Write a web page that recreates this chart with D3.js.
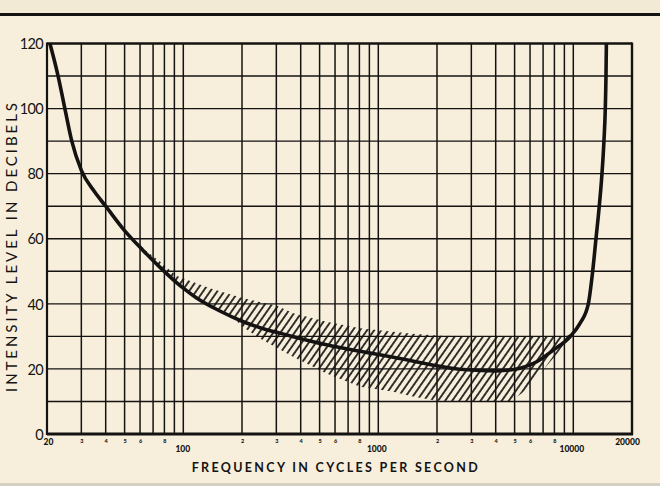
<!DOCTYPE html>
<html><head><meta charset="utf-8">
<script src="https://cdn.jsdelivr.net/npm/d3@7"></script>
<style>body{margin:0;background:#f7efdc}svg{display:block}</style>
</head><body>
<svg id="chart" width="660" height="486"></svg>
<script>
// ---- data ----
const curveFreq = [20.7, 22.8, 24.7, 26.8, 30, 35, 40, 50, 62, 76, 92, 100, 117, 154, 203, 250, 313, 367, 543, 806, 1194, 2070, 2730, 4050, 5330, 6490, 7900, 9620, 10820, 11940, 12570, 13070, 13590, 14030, 14360, 14590, 14710, 14780];
const curveDb   = [120, 110, 100, 90, 81, 74.5, 70, 62.5, 56.5, 51.2, 46.6, 44.8, 41.8, 37.8, 34.5, 32.6, 31, 29.9, 27.4, 25.4, 23.6, 20.8, 19.8, 19.4, 20.2, 22.2, 25.8, 29.9, 34, 40, 50, 60, 70, 80, 90, 100, 110, 120];

const hatchUpperFreq = [62, 76, 92, 137, 203, 250, 300, 367, 543, 806, 1194, 1500, 2070, 4000, 7000, 9000, 10000];
const hatchUpperDb   = [57, 53, 48.6, 44.8, 41.7, 40.5, 39.5, 37.1, 34.5, 32.5, 31.4, 30.8, 30.2, 30, 30, 30, 31];
const hatchLowerFreq = [62, 76, 92, 117, 154, 180, 203, 250, 313, 367, 543, 806, 1194, 1500, 2000, 3000, 4800, 6000, 7200, 8900, 10000];
const hatchLowerDb   = [56.8, 51.2, 46.6, 41.8, 37.8, 35.7, 32.8, 29.2, 26, 23.7, 18.6, 14.5, 13, 11.5, 10.2, 10, 10, 14.5, 20.5, 27, 31];

const yTickValues = [0, 20, 40, 60, 80, 100, 120];
const yGridValues = [10, 20, 30, 40, 50, 60, 70, 80, 90, 100, 110];
const xGridValues = [30, 40, 50, 60, 70, 80, 90, 100, 200, 300, 400, 500, 600, 700, 800, 900, 1000, 2000, 3000, 4000, 5000, 6000, 7000, 8000, 9000, 10000];
const xMajorValues = [20, 100, 1000, 10000, 20000];
const xMajorLabels = ["20", "100", "1000", "10000", "20000"];
const xMinorValues = [30, 40, 50, 60, 80, 200, 300, 400, 500, 600, 800, 2000, 3000, 4000, 5000, 6000, 8000];
const xMinorLabels = ["3", "4", "5", "6", "8", "2", "3", "4", "5", "6", "8", "2", "3", "4", "5", "6", "8"];
const xTitle = "FREQUENCY IN CYCLES PER SECOND";
const yTitle = "INTENSITY LEVEL IN DECIBELS";

// ---- layout ----
const L = 47, R = 632, T = 43.5, B = 434;
const ink = "#141312";
const font = "Lato, 'Open Sans', sans-serif";

const svg = d3.select("#chart");
const x = d3.scaleLog().domain([20, 20000]).range([L, R]);
const y = d3.scaleLinear().domain([0, 120]).range([B, T]);

svg.append("rect").attr("width", 660).attr("height", 486).attr("fill", "#f7efdc");
svg.append("rect").attr("x", 0).attr("y", 0).attr("width", 660).attr("height", 14).attr("fill", "#f3ead6");
svg.append("line").attr("x1", 0).attr("x2", 660).attr("y1", 14.5).attr("y2", 14.5)
  .attr("stroke", ink).attr("stroke-width", 3.2);
svg.append("rect").attr("x", 0).attr("y", 483).attr("width", 660).attr("height", 3).attr("fill", "#d6d0c2");

const defs = svg.append("defs");
const pat = defs.append("pattern").attr("id", "hatch").attr("patternUnits", "userSpaceOnUse")
  .attr("width", 5.8).attr("height", 10).attr("patternTransform", "rotate(35)");
pat.append("line").attr("x1", 2.9).attr("x2", 2.9).attr("y1", -1).attr("y2", 11)
  .attr("stroke", ink).attr("stroke-width", 1.7);

// grid
svg.append("g").selectAll("line").data(xGridValues).join("line")
  .attr("x1", d => x(d)).attr("x2", d => x(d)).attr("y1", T).attr("y2", B)
  .attr("stroke", ink).attr("stroke-width", 1.5);
svg.append("g").selectAll("line").data(yGridValues).join("line")
  .attr("x1", L).attr("x2", R).attr("y1", d => y(d)).attr("y2", d => y(d))
  .attr("stroke", ink).attr("stroke-width", 1.4);

// hatched region
const hatchPts = hatchUpperFreq.map((f, i) => [f, hatchUpperDb[i]])
  .concat(hatchLowerFreq.map((f, i) => [f, hatchLowerDb[i]]).reverse());
svg.append("path")
  .attr("d", d3.line().x(d => x(d[0])).y(d => y(d[1])).curve(d3.curveLinearClosed)(hatchPts))
  .attr("fill", "url(#hatch)").attr("stroke", "none");

// frame
svg.append("line").attr("x1", L).attr("x2", R).attr("y1", T).attr("y2", T).attr("stroke", ink).attr("stroke-width", 2.5);
svg.append("line").attr("x1", L).attr("x2", R + 1).attr("y1", B).attr("y2", B).attr("stroke", ink).attr("stroke-width", 2.8);
svg.append("line").attr("x1", L).attr("x2", L).attr("y1", T - 1).attr("y2", B + 1).attr("stroke", ink).attr("stroke-width", 2.2);
svg.append("line").attr("x1", R).attr("x2", R).attr("y1", T - 1).attr("y2", B + 1).attr("stroke", ink).attr("stroke-width", 2.4);

// threshold curve
const curvePts = curveFreq.map((f, i) => [f, curveDb[i]]);
svg.append("path")
  .attr("d", d3.line().x(d => x(d[0])).y(d => y(d[1])).curve(d3.curveMonotoneX)(curvePts))
  .attr("fill", "none").attr("stroke", ink).attr("stroke-width", 3.6)
  .attr("stroke-linejoin", "round").attr("stroke-linecap", "butt");

// y axis
const yAxis = svg.append("g").attr("transform", `translate(${L},0)`)
  .call(d3.axisLeft(y).tickValues(yTickValues).tickSize(0).tickPadding(4).tickFormat(d3.format("d")));
yAxis.select(".domain").remove();
yAxis.selectAll("text").attr("font-family", font).attr("font-size", 14.5).attr("fill", ink)
  .attr("font-weight", 400).attr("letter-spacing", -0.7).attr("dy", "0.36em");

// x axis major labels
const xAxis = svg.append("g").attr("transform", `translate(0,${B})`)
  .call(d3.axisBottom(x).tickValues(xMajorValues).tickSize(0).tickFormat((d, i) => xMajorLabels[i]));
xAxis.select(".domain").remove();
xAxis.selectAll("text").attr("font-family", font).attr("font-size", 8.5).attr("font-weight", 900)
  .attr("fill", ink).attr("dy", 0)
  .attr("y", d => (d === 20 || d === 20000) ? 10.5 : 18)
  .attr("dx", d => d === 20 ? 1 : (d === 20000 ? -5 : (d === 100 ? -1 : -2)));

// x minor digit labels
const xMinor = svg.append("g").attr("transform", `translate(0,${B})`)
  .call(d3.axisBottom(x).tickValues(xMinorValues).tickSize(0).tickFormat((d, i) => xMinorLabels[i]));
xMinor.select(".domain").remove();
xMinor.selectAll("text").attr("font-family", font).attr("font-size", 5.5).attr("font-weight", 900)
  .attr("fill", ink).attr("dy", 0).attr("y", 8.5);

// titles
svg.append("text").attr("x", 334.7).attr("y", 471.5).attr("text-anchor", "middle")
  .attr("font-family", font).attr("font-size", 12.5).attr("font-weight", 700).attr("fill", ink)
  .attr("textLength", 286).attr("lengthAdjust", "spacing").text(xTitle);
svg.append("text").attr("transform", "translate(16.5,247.5) rotate(-90)").attr("text-anchor", "middle")
  .attr("font-family", font).attr("font-size", 15).attr("font-weight", 400).attr("fill", ink)
  .attr("textLength", 289).attr("lengthAdjust", "spacing").text(yTitle);
</script>
</body></html>
